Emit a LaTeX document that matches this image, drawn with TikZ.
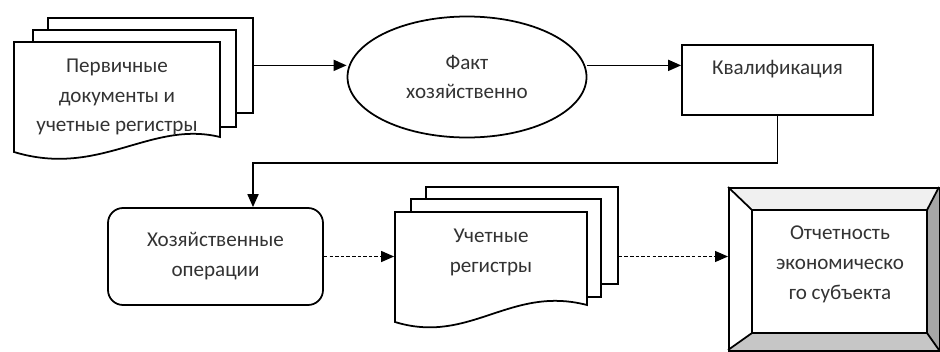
\documentclass[tikz,border=0pt]{standalone}
\usepackage{fontspec}
\setmainfont{Carlito}
\usetikzlibrary{arrows.meta,positioning,shapes.geometric,calc}

\tikzset{
  page/.style={draw,fill=white,anchor=north west,inner sep=0pt},
  lbl/.style={align=center,text=black!80,font=\fontsize{12}{17}\selectfont},
  flow/.style={-{Triangle[length=2.6mm,width=2.2mm]}},
  dflow/.style={flow,line width=0.7pt,dash pattern=on 2pt off 1.2pt},
}

\begin{document}
\begin{tikzpicture}[x=0.2mm,y=-0.2mm,line width=1pt]
    \useasboundingbox (0,0) rectangle (940,351);

    % primary documents
    \node[page,minimum width=41mm,minimum height=19mm] (prim3) at (47,17) {};
    \node[page,minimum width=40.6mm,minimum height=19.4mm] (prim2) at (32,29) {};
    \draw[fill=white] (14,42) -- (220,42) -- (220,137) .. controls (150,120) and (100,178) .. (14,152) -- cycle;
    \node[lbl,minimum width=41.2mm] (prim) at (117,97) {Первичные\\документы и\\учетные регистры};

    \node[draw,ellipse,lbl,minimum width=47.8mm,minimum height=24.2mm] (fact) at (467,77) {Факт\\хозяйственно};

    \node[draw,lbl,minimum width=38.2mm,minimum height=14mm,text depth=5mm] (qual) at (777.5,80) {Квалификация};

    \node[draw,rounded corners=3mm,lbl,minimum width=43mm,minimum height=19.4mm] (ops) at (215.5,256.5) {Хозяйственные\\операции};

    % registers
    \node[page,minimum width=38.4mm,minimum height=19.4mm] (regs3) at (425,186) {};
    \node[page,minimum width=38mm,minimum height=19.6mm] (regs2) at (410,198) {};
    \draw[fill=white] (395,212) -- (587,212) -- (587,305) .. controls (510,285) and (470,345) .. (395,322) -- cycle;
    \node[lbl,minimum width=38.4mm] (regs) at (491,252) {Учетные\\регистры};

    % report frame
    \fill[gray!12] (728,187) -- (939,187) -- (927,210) -- (752,210) -- cycle;
    \fill[gray!70] (939,187) -- (939,350) -- (927,333) -- (927,210) -- cycle;
    \fill[gray!45] (728,350) -- (752,333) -- (927,333) -- (939,350) -- cycle;
    \node[draw,anchor=north west,minimum width=42.2mm,minimum height=32.6mm] (report) at (728,187) {};
    \draw (752,210) rectangle (927,333);
    \draw (728,187) -- (752,210) (939,187) -- (927,210) (728,350) -- (752,333) (939,350) -- (927,333);
    \node[lbl] (reporttxt) at (840,264) {Отчетность\\экономическо\\го субъекта};

    % connectors
    \draw[flow] (prim3.east) -- (prim3.east -| fact.west);
    \draw[flow] (prim3.east -| fact.east) -- (prim3.east -| qual.west);
    \coordinate (turn) at (253,163);
    \draw[flow] (qual.south) |- (turn) -- (turn |- ops.north);
    \draw[dflow] (ops.east) -- (ops.east -| regs.west);
    \draw[dflow] (ops.east -| regs3.east) -- (ops.east -| report.west);
\end{tikzpicture}
\end{document}
